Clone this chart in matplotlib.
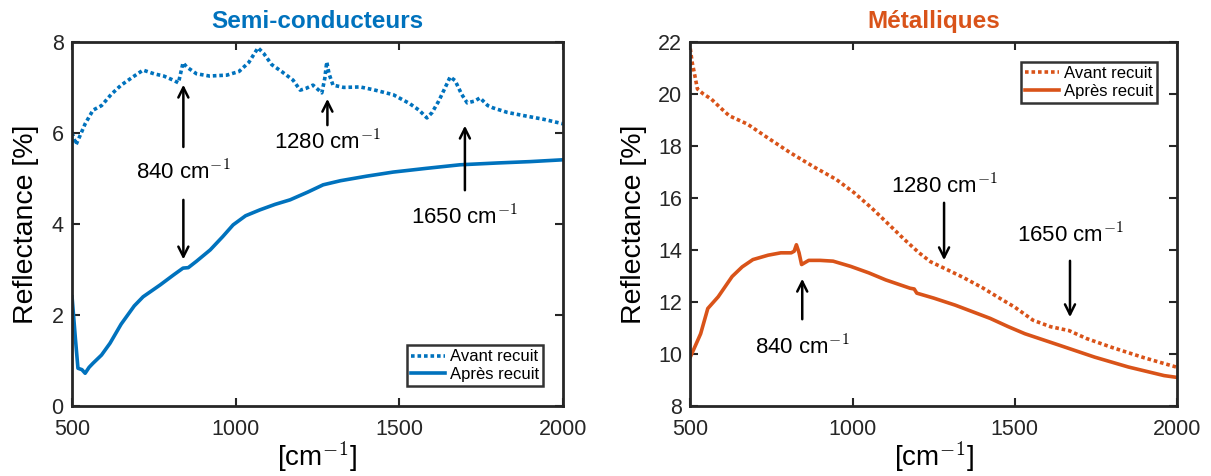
import matplotlib
matplotlib.use('Agg')
import matplotlib.pyplot as plt

plt.rcParams['font.family'] = ['Liberation Sans', 'DejaVu Sans']
plt.rcParams['mathtext.fontset'] = 'cm'

blue = '#0072BD'
orange = '#D95319'
dark = '#262626'

# Semi-conducteurs
sc_avant_x = [500, 505, 512, 525, 540, 564, 590, 620, 650, 690, 717, 750, 780, 809, 825, 839, 850, 880, 920, 973,
              1010, 1040, 1068, 1085, 1110, 1140, 1175, 1197, 1215, 1236, 1263, 1272, 1278, 1285, 1297, 1330, 1380,
              1420, 1481, 1530, 1560, 1584, 1600, 1620, 1640, 1655, 1670, 1690, 1707, 1730, 1746, 1770, 1786, 1830,
              1880, 1940, 2000]
sc_avant_y = [6.0, 5.9, 5.74, 5.95, 6.2, 6.5, 6.6, 6.85, 7.05, 7.25, 7.38, 7.3, 7.25, 7.16, 7.1, 7.54, 7.45, 7.3,
              7.25, 7.27, 7.35, 7.55, 7.87, 7.75, 7.5, 7.35, 7.16, 6.94, 6.98, 7.05, 6.88, 7.2, 7.56, 7.3, 7.05, 7.0,
              7.01, 6.95, 6.84, 6.65, 6.5, 6.33, 6.45, 6.7, 7.0, 7.23, 7.15, 6.85, 6.66, 6.7, 6.77, 6.6, 6.55, 6.45,
              6.38, 6.3, 6.2]
sc_apres_x = [500, 510, 518, 530, 540, 552, 564, 590, 616, 650, 690, 717, 769, 810, 839, 855, 880, 922, 960, 992,
              1030, 1074, 1120, 1166, 1220, 1267, 1320, 1400, 1481, 1580, 1685, 1800, 1900, 2000]
sc_apres_y = [2.4, 1.5, 0.83, 0.8, 0.72, 0.85, 0.94, 1.12, 1.38, 1.8, 2.2, 2.4, 2.66, 2.88, 3.03, 3.04, 3.18, 3.43,
              3.72, 3.98, 4.18, 4.31, 4.43, 4.53, 4.7, 4.86, 4.95, 5.05, 5.14, 5.22, 5.30, 5.34, 5.37, 5.41]

# Metalliques
met_avant_x = [500, 506, 512, 522, 540, 565, 590, 620, 676, 740, 808, 880, 950, 1005, 1060, 1116, 1160, 1205, 1240,
               1282, 1340, 1400, 1446, 1500, 1556, 1610, 1667, 1720, 1800, 1900, 2000]
met_avant_y = [21.74, 21.2, 20.84, 20.19, 20.0, 19.8, 19.5, 19.16, 18.84, 18.3, 17.74, 17.2, 16.71, 16.2, 15.6,
               14.93, 14.4, 13.89, 13.55, 13.3, 12.95, 12.55, 12.2, 11.8, 11.3, 11.05, 10.9, 10.6, 10.25, 9.85, 9.49]
met_apres_x = [500, 515, 532, 554, 586, 629, 660, 693, 740, 779, 811, 820, 827, 835, 843, 865, 900, 940, 994, 1050,
               1102, 1177, 1190, 1198, 1250, 1316, 1424, 1480, 1531, 1639, 1746, 1850, 1960, 2000]
met_apres_y = [9.88, 10.3, 10.78, 11.75, 12.2, 12.98, 13.35, 13.63, 13.8, 13.89, 13.89, 13.95, 14.2, 13.9, 13.44,
               13.6, 13.6, 13.57, 13.37, 13.12, 12.85, 12.53, 12.5, 12.34, 12.15, 11.88, 11.37, 11.05, 10.78, 10.33,
               9.88, 9.5, 9.17, 9.1]

# annotations: (x, text_y, arrow_start_y, arrow_tip_y)
sc_notes = [(840, 5.14, 5.63, 7.12), (840, 5.14, 4.59, 3.16), (1280, 5.78, 6.11, 6.81), (1700, 4.15, 4.68, 6.22)]
sc_labels = ['840', None, '1280', '1650']
met_notes = [(1282, 16.45, 15.92, 13.5), (1670, 14.55, 13.69, 11.31), (845, 10.25, 11.23, 13.0)]
met_labels = ['1280', '1650', '840']

fig = plt.figure(figsize=(12.11, 4.76), dpi=100)
ax1 = fig.add_axes([0.0595, 0.147, 0.4055, 0.765])
ax2 = fig.add_axes([0.570, 0.147, 0.402, 0.765])

dot = (0, (1, 0.8))


def style(ax, ylim, yticks, title, color, ypad):
    ax.set_xlim(500, 2000)
    ax.set_ylim(*ylim)
    ax.set_xticks([500, 1000, 1500, 2000])
    ax.set_yticks(yticks)
    ax.tick_params(direction='in', top=True, right=True, length=6, width=1.5, labelsize=15.5, colors=dark)
    ax.tick_params(axis='x', pad=9)
    ax.tick_params(axis='y', pad=6)
    for s in ax.spines.values():
        s.set_linewidth(2)
        s.set_color(dark)
    ax.set_title(title, color=color, fontsize=17.5, fontweight='bold', pad=10)
    ax.set_ylabel('Reflectance [%]', fontsize=20.5, color='black', labelpad=ypad)
    ax.set_xlabel('[cm' + r'$^{-1}$' + ']', fontsize=20, color='black', labelpad=0)


def legend(ax, loc):
    leg = ax.legend(loc=loc, fontsize=12, frameon=True, fancybox=False, edgecolor='black',
                    handlelength=2.0, borderpad=0.25, labelspacing=0.15, handletextpad=0.3, borderaxespad=1.2)
    leg.get_frame().set_linewidth(1.8)


ax1.plot(sc_avant_x, sc_avant_y, color=blue, lw=2.6, ls=dot, label='Avant recuit')
ax1.plot(sc_apres_x, sc_apres_y, color=blue, lw=2.6, label='Après recuit')
style(ax1, (0, 8), [0, 2, 4, 6, 8], 'Semi-conducteurs', blue, 9)
for (x, ty, y0, y1), lab in zip(sc_notes, sc_labels):
    ax1.annotate('', xy=(x, y1), xytext=(x, y0),
                 arrowprops=dict(arrowstyle='->', color='black', lw=1.8, mutation_scale=18))
    if lab:
        ax1.text(x, ty, lab + ' cm$^{-1}$', ha='center', va='center', fontsize=16)
legend(ax1, 'lower right')

ax2.plot(met_avant_x, met_avant_y, color=orange, lw=2.6, ls=dot, label='Avant recuit')
ax2.plot(met_apres_x, met_apres_y, color=orange, lw=2.6, label='Après recuit')
style(ax2, (8, 22), [8, 10, 12, 14, 16, 18, 20, 22], 'Métalliques', orange, 8)
for (x, ty, y0, y1), lab in zip(met_notes, met_labels):
    ax2.annotate('', xy=(x, y1), xytext=(x, y0),
                 arrowprops=dict(arrowstyle='->', color='black', lw=1.8, mutation_scale=18))
    ax2.text(x, ty, lab + ' cm$^{-1}$', ha='center', va='center', fontsize=16)
legend(ax2, 'upper right')

fig.savefig('out.png', dpi=100)
